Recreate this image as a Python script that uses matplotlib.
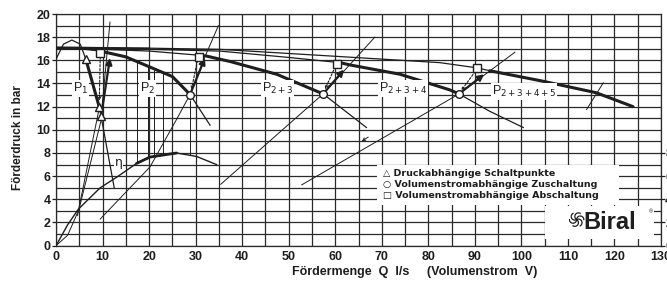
import numpy as np
import matplotlib
matplotlib.use('Agg')
import matplotlib.pyplot as plt
from matplotlib.patches import Rectangle

plt.rcParams['font.family'] = ['Liberation Sans', 'DejaVu Sans']

# Pumpenkennlinien: Q in l/s, H in bar
p1_q = [0, 1.6, 3.4, 5.2, 5.9, 6.4, 9.3, 9.8, 12.5]
p1_h = [16.1, 17.4, 17.75, 17.4, 16.65, 16.1, 11.95, 10.9, 5.0]
p1_dick = (6.4, 9.3)

p2_q = [0, 5, 9.5, 15, 20, 25, 28.8, 33.1]
p2_h = [17.0, 17.0, 16.8, 16.3, 15.45, 14.6, 13.05, 10.4]
p2_dick = (9.5, 28.8)

p23_q = [0, 10, 20, 32, 35.2, 37.4, 47.4, 57.4, 66.7]
p23_h = [17.0, 16.95, 16.8, 16.4, 16.1, 15.9, 14.8, 13.1, 10.2]
p23_dick = (32, 57.4)

p234_q = [0, 10, 20, 35.2, 50, 61, 63.2, 73.9, 84.6, 86.6, 93.2, 100.4]
p234_h = [17.1, 17.05, 16.95, 16.8, 16.25, 15.8, 15.6, 14.8, 13.45, 13.1, 11.6, 10.2]
p234_dick = (61, 86.6)

p2345_q = [0, 10, 20, 35.2, 60, 82.5, 90.5, 93.2, 104.6, 116.1, 124]
p2345_h = [17.15, 17.1, 17.05, 16.95, 16.35, 15.8, 15.35, 15.1, 14.2, 13.2, 12.0]
p2345_dick = (93.2, 124)

# Wirkungsgrad
eta_q = [0, 2.5, 4.8, 9.5, 13, 17.3, 20.2, 25.9, 30.2, 34.5]
eta_h = [0, 1.8, 3.15, 5.0, 5.9, 7.1, 7.65, 8.0, 7.7, 7.0]
eta_dick = (17.3, 28)

# Anlagenkennlinien
anl = [
    ([0, 2.5, 4.8, 9.3], [0, 0.9, 3.0, 11.9]),
    ([4.6, 9.8], [2.6, 11.0]),
    ([9.7, 11.6], [11.2, 19.3]),
    ([9.5, 20.2, 25.9, 28.8, 32.2, 34.9], [2.3, 6.8, 10.9, 13.05, 16.5, 19.0]),
    ([35.4, 57.4, 68.5], [5.3, 13.1, 18.0]),
    ([52.8, 86.6, 98.6], [5.25, 13.1, 16.7]),
    ([114.0, 117.6], [11.75, 14.06]),
]

# Senkrechte Hilfslinien zwischen P2 und eta
senk_q = [17.3, 19.8, 21.1, 23.0, 28.7]
senk_oben = [15.9, 15.4, 15.2, 14.9, 12.6]
senk_unten = [7.1, 7.6, 7.75, 7.9, 7.8]

# Schaltpunkte
drei_q = [6.4, 9.2, 9.7]
drei_h = [16.1, 12.0, 11.2]
kreis_q = [28.8, 57.4, 86.6]
kreis_h = [13.05, 13.1, 13.1]
quad_q = [9.5, 30.7, 60.3, 90.5]
quad_h = [16.6, 16.3, 15.7, 15.3]

# Zuschaltung (durchgezogen) und Abschaltung (gestrichelt)
zu_start = [(9.7, 11.2), (28.8, 13.05), (57.4, 13.1), (86.6, 13.1)]
zu_ende = [(11.6, 16.2), (32.0, 16.2), (61.9, 15.2), (92.0, 14.8)]
ab_start = [(9.5, 16.3), (30.4, 16.0), (60.0, 15.45), (90.1, 15.05)]
ab_ende = [(9.3, 12.5), (29.1, 13.5), (57.8, 13.5), (87.1, 13.4)]

kurven_namen = [('P$_1$', 5.3, 13.6), ('P$_2$', 19.6, 13.6), ('P$_{2+3}$', 47.6, 13.6),
                ('P$_{2+3+4}$', 74.5, 13.6), ('P$_{2+3+4+5}$', 100.5, 13.3)]

legende = ['\u25b3 Druckabhängige Schaltpunkte',
           '\u25cb Volumenstromabhängige Zuschaltung',
           '\u25a1 Volumenstromabhängige Abschaltung']

farbe = '#1e1e1e'

fig = plt.figure(figsize=(6.67, 2.83), dpi=100)
ax = fig.add_axes([0.084, 0.132, 0.907, 0.8185])
ax.set_xlim(0, 130)
ax.set_ylim(0, 20)
ax.set_axisbelow(True)

ax.set_xticks(np.arange(0, 131, 10))
ax.set_xticks(np.arange(0, 131, 5), minor=True)
ax.set_yticks(np.arange(0, 21, 2))
ax.set_yticks(np.arange(0, 21, 1), minor=True)
ax.grid(True, which='both', color='#2a2a2a', lw=0.9)
ax.tick_params(which='major', axis='y', length=3, width=0.9, pad=1, colors=farbe, labelsize=9)
ax.tick_params(which='major', axis='x', length=0, pad=4, colors=farbe, labelsize=9)
ax.tick_params(which='minor', length=0)
for lab in ax.get_xticklabels() + ax.get_yticklabels():
    lab.set_fontweight('bold')
for sp in ax.spines.values():
    sp.set_color('#2a2a2a')
    sp.set_linewidth(0.9)

# weisse Felder fuer Legende und Logo
ax.add_patch(Rectangle((69, 3.5), 52, 3.45, facecolor='white', edgecolor='none', zorder=1.5))
ax.add_patch(Rectangle((105, 0.55), 23.5, 2.9, facecolor='white', edgecolor='none', zorder=1.5))


def kurve(q, h, dick, lw_duenn=0.9, lw_dick=2.2):
    ax.plot(q, h, color=farbe, lw=lw_duenn, zorder=3)
    qq = [a for a in q if dick[0] <= a <= dick[1]]
    hh = [b for a, b in zip(q, h) if dick[0] <= a <= dick[1]]
    ax.plot(qq, hh, color=farbe, lw=lw_dick, zorder=3, solid_capstyle='round')


kurve(p1_q, p1_h, p1_dick)
kurve(p2_q, p2_h, p2_dick)
kurve(p23_q, p23_h, p23_dick)
kurve(p234_q, p234_h, p234_dick)
kurve(p2345_q, p2345_h, p2345_dick)
kurve(eta_q, eta_h, eta_dick, lw_duenn=1.0, lw_dick=2.0)
ax.plot([0, 20], [17.05, 17.0], color=farbe, lw=1.6, zorder=3)

for q, h in anl:
    ax.plot(q, h, color=farbe, lw=0.7, zorder=2.5)

ax.vlines(senk_q, senk_unten, senk_oben, color=farbe, lw=0.7, zorder=2.5)

for s, e in zip(zu_start, zu_ende):
    ax.annotate('', xy=e, xytext=s, zorder=4,
                arrowprops=dict(arrowstyle='-|>', color=farbe, lw=1.6, mutation_scale=9,
                                shrinkA=0, shrinkB=0))
for s, e in zip(ab_start, ab_ende):
    ax.annotate('', xy=e, xytext=s, zorder=4,
                arrowprops=dict(arrowstyle='->', color=farbe, lw=0.8, ls=(0, (2, 1.5)),
                                mutation_scale=6, shrinkA=0, shrinkB=0))
ax.annotate('', xy=(65.2, 8.9), xytext=(67.6, 9.5),
            arrowprops=dict(arrowstyle='->', color=farbe, lw=0.7, mutation_scale=5))

ax.plot(drei_q, drei_h, ls='none', marker='^', ms=5.5, mfc='white', mec=farbe, mew=1.0, zorder=5)
ax.plot(kreis_q, kreis_h, ls='none', marker='o', ms=5.5, mfc='white', mec=farbe, mew=1.0, zorder=5)
ax.plot(quad_q, quad_h, ls='none', marker='s', ms=5.5, mfc='white', mec=farbe, mew=1.0, zorder=5)

for name, x, y in kurven_namen:
    ax.text(x, y, name, fontsize=9, color=farbe, ha='center', va='center', zorder=6,
            bbox=dict(facecolor='white', edgecolor='none', pad=0.6))
ax.text(13.4, 7.2, '\u03b7', fontsize=9, color=farbe, ha='center', va='center', zorder=6,
        family=['DejaVu Sans'], bbox=dict(facecolor='white', edgecolor='none', pad=0.2))

for i, t in enumerate(legende):
    ax.text(70.3, 6.25 - i * 0.95, t, fontsize=6.8, fontweight='bold', color=farbe,
            ha='left', va='center', zorder=6, family=['DejaVu Sans'])

# Logo
ax.text(113.4, 2.0, 'Biral', fontsize=17, fontweight='heavy', color=farbe,
        ha='left', va='center', zorder=6)
ax.text(127.3, 2.9, '\u00ae', fontsize=4, color=farbe, ha='left', va='center', zorder=6)
lx = fig.add_axes([0.8525, 0.196, 0.024, 0.056])
for k in range(6):
    a = np.deg2rad(60 * k)
    t = np.linspace(a, a + np.pi, 30)
    lx.plot(0.5 * np.cos(a) + 0.5 * np.cos(t), 0.5 * np.sin(a) + 0.5 * np.sin(t),
            color=farbe, lw=0.9)
lx.set_xlim(-1.1, 1.1)
lx.set_ylim(-1.1, 1.1)
lx.set_aspect('equal')
lx.axis('off')

# rechte Achse (abgeschnitten)
ax2 = ax.twinx()
ax2.set_ylim(0, 20)
ax2.set_yticks([0, 2, 4, 6, 8])
ax2.tick_params(axis='y', length=3, width=0.9, pad=0, colors=farbe, labelsize=9)
for lab in ax2.get_yticklabels():
    lab.set_fontweight('bold')
for sp in ax2.spines.values():
    sp.set_visible(False)

fig.text(0.027, 0.515, 'Förderdruck in bar', rotation=90, fontsize=8.5, fontweight='bold',
         color=farbe, ha='center', va='center')
fig.text(0.622, 0.018, 'Fördermenge  Q  l/s     (Volumenstrom  V)', fontsize=9,
         fontweight='bold', color=farbe, ha='center', va='bottom')

fig.savefig('out.png', dpi=100, facecolor='white')
